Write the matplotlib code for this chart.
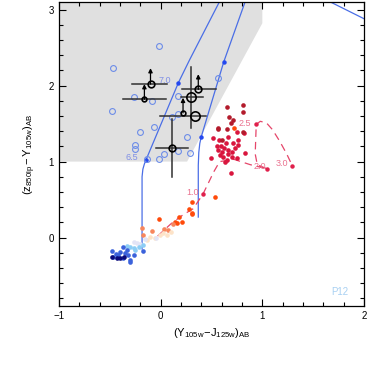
import matplotlib
matplotlib.use("Agg")
import matplotlib.pyplot as plt
from matplotlib.patches import Polygon

plt.rcParams['font.family'] = ['Liberation Sans', 'DejaVu Sans']
plt.rcParams['mathtext.fontset'] = 'custom'
plt.rcParams['mathtext.rm'] = 'Liberation Sans'
plt.rcParams['mathtext.it'] = 'Liberation Sans'
plt.rcParams['axes.unicode_minus'] = True

# selection window (grey)
box_x = [-1.0, 0.26, 1.0, 1.0, -1.0]
box_y = [1.0, 1.0, 2.82, 3.1, 3.1]

# star-forming galaxy tracks (blue)
track1_x = [-0.183, -0.183, -0.175, -0.16, -0.145, 0.175, 0.285, 0.577, 0.62]
track1_y = [-0.15, 0.80, 0.90, 0.97, 1.02, 2.04, 2.34, 3.10, 3.22]
track1_dot_x = [-0.145, 0.175]
track1_dot_y = [1.02, 2.04]
track2_x = [0.37, 0.37, 0.375, 0.385, 0.40, 0.62, 0.83, 0.86]
track2_y = [0.27, 0.95, 1.12, 1.24, 1.33, 2.31, 3.10, 3.22]
track2_dot_x = [0.40, 0.62]
track2_dot_y = [1.33, 2.31]
track3_x = [1.67, 2.0]
track3_y = [3.10, 2.88]
blue_labels = ['6.5', '7.0']
blue_label_x = [-0.28, 0.04]
blue_label_y = [1.05, 2.07]

# elliptical / red track (dashed)
red_track_x = [-0.03, 0.10, 0.22, 0.32, 0.415, 0.47, 0.52, 0.58, 0.72, 0.88, 1.05,
               0.95, 0.93, 0.935, 0.94, 0.98, 1.04, 1.10, 1.17, 1.24, 1.296]
red_track_y = [0.02, 0.18, 0.30, 0.38, 0.57, 0.72, 0.86, 1.00, 1.03, 0.96, 0.903,
               0.96, 1.10, 1.30, 1.49, 1.53, 1.51, 1.42, 1.27, 1.10, 0.942]
red_dot_x = [0.415, 1.05, 0.94, 1.296]
red_dot_y = [0.57, 0.903, 1.49, 0.942]
red_labels = ['1.0', '2.0', '2.5', '3.0']
red_label_x = [0.31, 0.98, 0.83, 1.19]
red_label_y = [0.59, 0.93, 1.50, 0.98]

# candidate galaxies (open blue circles)
cand_x = [-0.464, -0.48, -0.26, -0.087, 0.175, 0.568, 0.113, 0.172, -0.067, -0.199,
          -0.254, -0.254, 0.26, 0.034, 0.175, 0.29, -0.012, -0.13, -0.015]
cand_y = [2.236, 1.67, 1.85, 1.80, 1.867, 2.104, 1.583, 1.63, 1.455, 1.39,
          1.214, 1.162, 1.32, 1.10, 1.144, 1.117, 1.038, 1.03, 2.52]

# dropouts with error bars (black circles)
drop_x = [-0.10, -0.16, 0.37, 0.30, 0.34, 0.22, 0.11]
drop_y = [2.02, 1.82, 1.95, 1.85, 1.60, 1.64, 1.18]
drop_xlo = [-0.28, -0.37, 0.21, 0.20, -0.005, 0.22, -0.05]
drop_xhi = [0.06, 0.05, 0.54, 0.42, 0.45, 0.22, 0.27]
drop_ylo = [2.02, 1.82, 1.95, 1.44, 1.60, 1.64, 0.80]
drop_yhi = [2.02, 1.82, 1.95, 2.24, 1.60, 1.64, 1.56]
drop_size = [4.8, 3.4, 4.8, 6.7, 6.7, 3.4, 4.8]
drop_arrow = [0.21, 0.20, 0.20, 0.0, 0.0, 0.20, 0.0]

# red galaxy cloud
dred_x = [0.654, 0.808, 0.677, 0.814, 0.693, 0.562, 0.657, 0.716, 0.568, 0.808, 0.60]
dred_y = [1.714, 1.745, 1.591, 1.657, 1.504, 1.429, 1.429, 1.547, 1.437, 1.393, 1.29]
red_x = [0.749, 0.821, 0.519, 0.578, 0.667, 0.765, 0.641, 0.71, 0.759, 0.568, 0.602,
         0.667, 0.732, 0.831, 0.618, 0.651, 0.70, 0.749, 0.497, 0.634, 0.69, 0.59,
         0.62, 0.66, 0.58, 0.70, 0.55]
red_y = [1.385, 1.372, 1.314, 1.284, 1.328, 1.284, 1.241, 1.241, 1.218, 1.153, 1.13,
         1.153, 1.175, 1.108, 1.064, 1.021, 1.064, 1.043, 1.043, 0.999, 0.854, 1.20,
         1.18, 1.10, 1.09, 1.12, 1.21]
orange_x = [0.723, 0.536, 0.313, 0.283, 0.313, -0.018, 0.182, 0.208, 0.165, 0.307, 0.143]
orange_y = [1.437, 0.53, 0.472, 0.376, 0.31, 0.245, 0.275, 0.209, 0.196, 0.32, 0.209]
coral_x = [-0.185, -0.081, 0.028, 0.077, 0.126, -0.169]
coral_y = [0.12, 0.086, 0.112, 0.103, 0.179, 0.034]
peach_x = [-0.103, -0.054, -0.005, 0.061, -0.136, 0.02, 0.10]
peach_y = [0.012, -0.009, 0.034, 0.034, -0.032, 0.06, 0.07]
pale_x = [-0.267, -0.234, -0.20, -0.15, -0.05]
pale_y = [-0.054, -0.075, -0.09, -0.02, 0.0]
sky_x = [-0.30, -0.267, -0.218, -0.169, -0.332, -0.25]
sky_y = [-0.12, -0.141, -0.12, -0.097, -0.107, -0.16]
blue_x = [-0.48, -0.372, -0.349, -0.415, -0.317, -0.267, -0.464, -0.366, -0.30, -0.175,
          -0.30, -0.40, -0.33, -0.44]
blue_y = [-0.172, -0.12, -0.207, -0.229, -0.229, -0.229, -0.251, -0.273, -0.295, -0.176,
          -0.317, -0.19, -0.16, -0.21]
navy_x = [-0.48, -0.431, -0.359, -0.398]
navy_y = [-0.251, -0.264, -0.251, -0.273]

fig = plt.figure(figsize=(3.68, 3.66), dpi=100)
ax = fig.add_axes([59 / 368, 60 / 366, 305 / 368, 304 / 366])

ax.add_patch(Polygon(list(zip(box_x, box_y)), closed=True, facecolor='#e0e0e0',
                     edgecolor='none', zorder=0))

blue_line = '#4a6ee6'
for tx, ty in [(track1_x, track1_y), (track2_x, track2_y), (track3_x, track3_y)]:
    ax.plot(tx, ty, color=blue_line, lw=0.9, zorder=2)
ax.plot(track1_dot_x + track2_dot_x, track1_dot_y + track2_dot_y, 'o', color='#2448f0',
        ms=2.2, zorder=3)
for lab, lx, ly in zip(blue_labels, blue_label_x, blue_label_y):
    ax.text(lx, ly, lab, color='#7f8fe6', fontsize=6.5, ha='center', va='center', zorder=3)

ax.plot(red_track_x, red_track_y, color='#e5466a', lw=0.9, dashes=(6, 4), zorder=2)
ax.plot(red_dot_x, red_dot_y, 'o', color='#e0204c', ms=2.2, zorder=3)
for lab, lx, ly in zip(red_labels, red_label_x, red_label_y):
    ax.text(lx, ly, lab, color='#ea7390', fontsize=6.5, ha='center', va='center', zorder=3)

ax.plot(cand_x, cand_y, 'o', mfc='none', mec='#6d8de8', ms=4.2, mew=0.8, zorder=4)

dot = dict(s=11, linewidths=0, zorder=5)
ax.scatter(red_x, red_y, color='#d9163e', **dot)
ax.scatter(dred_x, dred_y, color='#b31b2c', **dot)
ax.scatter(orange_x, orange_y, color='#ff4a0a', **dot)
ax.scatter(coral_x, coral_y, color='#f7865c', **dot)
ax.scatter(peach_x, peach_y, color='#fde3c8', **dot)
ax.scatter(pale_x, pale_y, color='#e2e4f6', **dot)
ax.scatter(sky_x, sky_y, color='#8ccdf5', **dot)
ax.scatter(blue_x, blue_y, color='#3b62db', **dot)
ax.scatter(navy_x, navy_y, color='#0a0a7a', **dot)

for i in range(len(drop_x)):
    x, y = drop_x[i], drop_y[i]
    ax.plot([drop_xlo[i], drop_xhi[i]], [y, y], color='#303030', lw=1.1, zorder=6)
    ax.plot([x, x], [drop_ylo[i], drop_yhi[i]], color='#303030', lw=1.1, zorder=6)
    if drop_arrow[i] > 0:
        ax.annotate('', xy=(x, y + drop_arrow[i]), xytext=(x, y),
                    arrowprops=dict(arrowstyle='-|>', color='black', lw=0.9,
                                    mutation_scale=6, shrinkA=0, shrinkB=0), zorder=7)
    ax.plot(x, y, 'o', mfc='none', mec='black', ms=drop_size[i], mew=1.2, zorder=8)

ax.text(0.92, 0.03, 'P12', transform=ax.transAxes, color='#a8d0f2', fontsize=7,
        ha='center', va='bottom')

ax.set_xlim(-1, 2)
ax.set_ylim(-0.9, 3.1)
ax.set_xticks([-1, 0, 1, 2])
ax.set_yticks([0, 1, 2, 3])
ax.set_xticks([v / 5 for v in range(-5, 10)], minor=True)
ax.set_yticks([v / 5 for v in range(-4, 16)], minor=True)
ax.tick_params(which='both', direction='in', top=True, right=True, labelsize=7, width=0.8)
ax.tick_params(which='major', length=5)
ax.tick_params(which='minor', length=3)
for sp in ax.spines.values():
    sp.set_linewidth(0.9)

ax.set_xlabel(r'$(\mathrm{Y}_{105w}\!-\!\mathrm{J}_{125w})_{AB}$', fontsize=8, labelpad=4)
ax.set_ylabel(r'$(\mathrm{z}_{850lp} - \mathrm{Y}_{105w})_{AB}$', fontsize=8, labelpad=8)

fig.savefig('out.png', dpi=100)
